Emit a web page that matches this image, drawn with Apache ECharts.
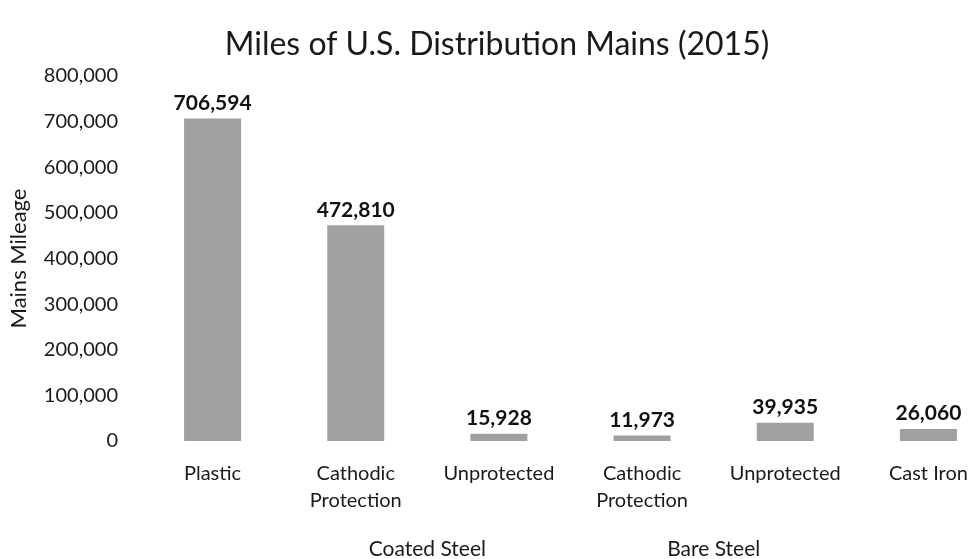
<!DOCTYPE html>
<html>
<head>
<meta charset="utf-8">
<script src="https://cdn.jsdelivr.net/npm/echarts@6/dist/echarts.min.js"></script>
<style>html,body{margin:0;padding:0;background:#fff;overflow:hidden;}#main{width:1000px;height:559px;}</style>
</head>
<body>
<div id="main"></div>
<script>
const titleText = 'Miles of U.S. Distribution Mains (2015)';
const yAxisName = 'Mains Mileage';
const categories = ['Plastic', 'Cathodic\nProtection', 'Unprotected', 'Cathodic\nProtection', 'Unprotected', 'Cast Iron'];
const values = [706594, 472810, 15928, 11973, 39935, 26060];
const groupLabels = ['Coated Steel', 'Bare Steel'];
const groupFirstIndex = [1, 3];
const groupLastIndex = [2, 4];
const yMin = 0, yMax = 800000, yStep = 100000;

const FONT = 'Lato';
const fmt = v => Number(v).toLocaleString('en-US');

const chart = echarts.init(document.getElementById('main'));
chart.setOption({
  backgroundColor: '#fff',
  animation: false,
  textStyle: { fontFamily: FONT },
  title: {
    text: titleText, left: 492, top: 24, textAlign: 'center',
    textStyle: { fontFamily: FONT, fontSize: 32, fontWeight: 'normal', color: '#1a1a1a' }
  },
  grid: { left: 140, top: 76, width: 860, bottom: 118 },
  xAxis: {
    type: 'category', data: categories,
    axisLine: { show: false }, axisTick: { show: false },
    axisLabel: { fontFamily: FONT, fontSize: 20, color: '#1a1a1a', margin: 19, lineHeight: 27, interval: 0 }
  },
  yAxis: {
    type: 'value', min: yMin, max: yMax, interval: yStep,
    name: yAxisName, nameLocation: 'middle', nameGap: 111, nameRotate: 90,
    nameTextStyle: { fontFamily: FONT, fontSize: 22, color: '#1a1a1a' },
    axisLine: { show: false }, axisTick: { show: false }, splitLine: { show: false },
    axisLabel: { fontFamily: FONT, fontSize: 20, color: '#1a1a1a', margin: 23, formatter: fmt }
  },
  series: [{
    type: 'bar', data: values, barWidth: 57,
    itemStyle: { color: '#a0a0a0' },
    label: { show: true, position: 'top', distance: 5, formatter: p => fmt(p.value),
      fontFamily: FONT, fontSize: 21, fontWeight: 'bold', color: '#111' }
  }]
});

const y = 549;
const graphics = groupLabels.map((txt, i) => {
  const x1 = chart.convertToPixel({ xAxisIndex: 0 }, groupFirstIndex[i]);
  const x2 = chart.convertToPixel({ xAxisIndex: 0 }, groupLastIndex[i]);
  return { type: 'text', x: (x1 + x2) / 2, y: y,
    style: { text: txt, fontFamily: FONT, fontSize: 21, fill: '#1a1a1a', textAlign: 'center', textVerticalAlign: 'middle' } };
});
chart.setOption({ graphic: graphics });
</script>
</body>
</html>
